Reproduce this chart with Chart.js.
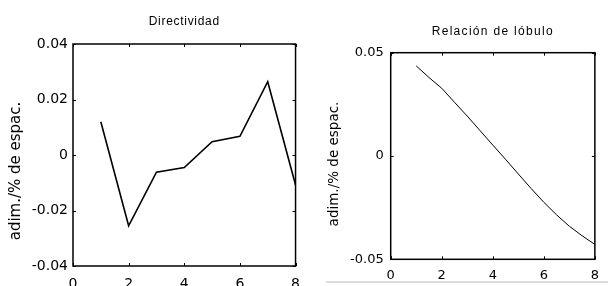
<!DOCTYPE html>
<html>
<head>
<meta charset="utf-8">
<script src="https://cdn.jsdelivr.net/npm/chart.js@4/dist/chart.umd.min.js"></script>
<style>
  html, body { margin: 0; padding: 0; background: #fff; }
  #wrap { position: relative; width: 608px; height: 286px; overflow: hidden; }
  #c1 { position: absolute; left: 0; top: 0; }
  #c2 { position: absolute; left: 310px; top: 0; }
  #rule { position: absolute; left: 326px; top: 281px; width: 282px; height: 2px; background: #dcdcdc; }
</style>
</head>
<body>
<div id="wrap">
  <canvas id="c1" width="310" height="286"></canvas>
  <canvas id="c2" width="298" height="286"></canvas>
  <div id="rule"></div>
</div>
<script>
// Directividad (left)
const dirX = [1, 2, 3, 4, 5, 6, 7, 8];
const dirY = [0.012, -0.0255, -0.0062, -0.0045, 0.0048, 0.0067, 0.0264, -0.0108];
const dirXTicks = [0, 2, 4, 6, 8];
const dirYTicks = [-0.04, -0.02, 0, 0.02, 0.04];
const dirYLabels = ['-0.04', '-0.02', '0', '0.02', '0.04'];

// Relación de lóbulo (right)
const lobX = [1, 1.5, 2, 2.5, 3, 3.5, 4, 4.5, 5, 5.5, 6, 6.5, 7, 7.5, 8];
const lobY = [0.0436, 0.038, 0.0328, 0.026, 0.0193, 0.0123, 0.0053, -0.0016,
              -0.0087, -0.0157, -0.0224, -0.0285, -0.034, -0.0386, -0.0428];
const lobXTicks = [0, 2, 4, 6, 8];
const lobYTicks = [-0.05, 0, 0.05];
const lobYLabels = ['-0.05', '0', '0.05'];

const yLabel = 'adim./% de espac.';

// box, inward ticks and texts drawn against the chart area
const frame = {
  id: 'frame',
  afterDraw(chart, args, o) {
    const { ctx, chartArea: a, scales: { x, y } } = chart;
    ctx.save();
    ctx.strokeStyle = '#000';
    ctx.lineWidth = 1.5;
    ctx.strokeRect(a.left, a.top, a.width, a.height);
    ctx.lineWidth = 1;
    ctx.beginPath();
    x.ticks.forEach(t => {
      const px = Math.round(x.getPixelForValue(t.value)) + 0.5;
      ctx.moveTo(px, a.bottom); ctx.lineTo(px, a.bottom - 3);
      ctx.moveTo(px, a.top); ctx.lineTo(px, a.top + 3);
    });
    y.ticks.forEach(t => {
      const py = Math.round(y.getPixelForValue(t.value)) + 0.5;
      ctx.moveTo(a.left, py); ctx.lineTo(a.left + 3, py);
      ctx.moveTo(a.right, py); ctx.lineTo(a.right - 3, py);
    });
    ctx.stroke();

    ctx.fillStyle = '#000';
    ctx.textAlign = 'center';
    ctx.textBaseline = 'middle';
    ctx.font = '12px "Liberation Sans", Arial, sans-serif';
    ctx.letterSpacing = o.spacing + 'px';
    ctx.fillText(o.title, (a.left + a.right) / 2, o.titleY);

    ctx.letterSpacing = '0px';
    ctx.font = o.labelSize + 'px "DejaVu Sans", sans-serif';
    ctx.translate(o.labelX, o.labelY);
    ctx.rotate(-Math.PI / 2);
    ctx.fillText(yLabel, 0, 0);
    ctx.restore();
  }
};

function makeChart(id, xs, ys, xTicks, yTicks, yLabels, cfg) {
  const pts = xs.map((v, i) => ({ x: v, y: ys[i] }));
  return new Chart(document.getElementById(id), {
    type: 'line',
    data: {
      datasets: [{
        data: pts,
        borderColor: '#000',
        borderWidth: cfg.lineWidth,
        pointRadius: 0,
        tension: 0,
        fill: false
      }]
    },
    options: {
      responsive: false,
      animation: false,
      layout: { padding: { left: 0, right: cfg.padRight, top: cfg.padTop, bottom: 0 } },
      plugins: {
        legend: { display: false },
        tooltip: { enabled: false },
        frame: cfg.frame
      },
      scales: {
        x: {
          type: 'linear',
          min: xTicks[0],
          max: xTicks[xTicks.length - 1],
          afterBuildTicks: s => { s.ticks = xTicks.map(v => ({ value: v })); },
          afterFit: s => { s.height = cfg.xHeight; },
          grid: { display: false, drawTicks: false },
          border: { display: false },
          ticks: {
            color: '#000',
            padding: cfg.xPad,
            maxRotation: 0,
            autoSkip: false,
            font: { family: 'DejaVu Sans', size: cfg.tickSize },
            callback: v => String(v)
          }
        },
        y: {
          min: yTicks[0],
          max: yTicks[yTicks.length - 1],
          afterBuildTicks: s => { s.ticks = yTicks.map(v => ({ value: v })); },
          afterFit: s => { s.width = cfg.yWidth; },
          grid: { display: false, drawTicks: false },
          border: { display: false },
          ticks: {
            color: '#000',
            padding: cfg.yPad,
            autoSkip: false,
            font: { family: 'DejaVu Sans', size: cfg.tickSize },
            callback: (v, i) => yLabels[i]
          }
        }
      }
    },
    plugins: [frame]
  });
}

makeChart('c1', dirX, dirY, dirXTicks, dirYTicks, dirYLabels, {
  lineWidth: 1.6, padRight: 7, padTop: 44, xHeight: 20, yWidth: 73,
  xPad: 10, yPad: 5, tickSize: 14,
  frame: { title: 'Directividad', titleY: 21.5, spacing: 0.7, labelX: 16, labelY: 171, labelSize: 15 }
});

makeChart('c2', lobX, lobY, lobXTicks, lobYTicks, lobYLabels, {
  lineWidth: 1, padRight: 4.7, padTop: 52.7, xHeight: 26.7, yWidth: 80.7,
  xPad: 9, yPad: 7, tickSize: 13,
  frame: { title: 'Relación de lóbulo', titleY: 31.7, spacing: 1.3, labelX: 24, labelY: 164, labelSize: 13.5 }
});
</script>
</body>
</html>
